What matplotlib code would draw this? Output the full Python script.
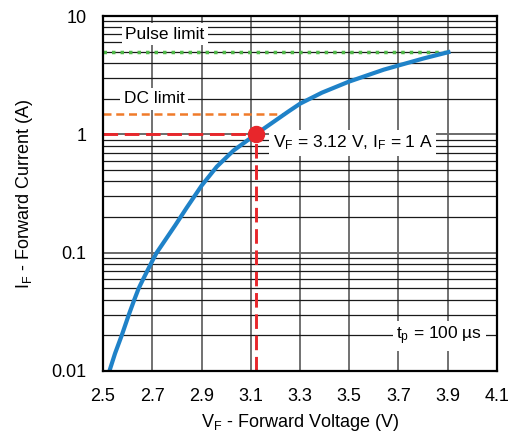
import numpy as np
import matplotlib.pyplot as plt

plt.rcParams['font.family'] = ['Liberation Sans', 'DejaVu Sans']
plt.rcParams['mathtext.fontset'] = 'custom'
plt.rcParams['mathtext.rm'] = 'Liberation Sans'
plt.rcParams['mathtext.it'] = 'Liberation Sans:italic'

# Forward I-V curve (V, A)
vf = [2.526, 2.549, 2.576, 2.605, 2.627, 2.645, 2.66, 2.70, 2.718, 2.793,
      2.840, 2.901, 2.962, 3.030, 3.098, 3.12, 3.159, 3.253, 3.301, 3.389,
      3.497, 3.64, 3.70, 3.802, 3.911]
i_f = [0.010, 0.0141, 0.020, 0.030, 0.040, 0.050, 0.058, 0.085, 0.10, 0.17,
       0.24, 0.37, 0.533, 0.73, 0.925, 1.0, 1.14, 1.56, 1.82, 2.25,
       2.78, 3.52, 3.82, 4.38, 5.0]

pulse_limit = 5.0
dc_limit = 1.5
op_v, op_i = 3.12, 1.0
xticks = [2.5, 2.7, 2.9, 3.1, 3.3, 3.5, 3.7, 3.9, 4.1]
yticks = [0.01, 0.1, 1, 10]
ytick_labels = ['0.01', '0.1', '1', '10']

fig = plt.figure(figsize=(5.09, 4.34), dpi=100)
ax = fig.add_axes([0.2024, 0.1452, 0.774, 0.8179])

ax.set_yscale('log')
ax.set_xlim(2.5, 4.1)
ax.set_ylim(0.01, 10)

# grid
for v in xticks[1:-1]:
    ax.axvline(v, color='#4a4a4a', lw=1.1, zorder=1)
for dec in [0.01, 0.1, 1]:
    for k in range(2, 10):
        ax.axhline(dec * k, color='#1a1a1a', lw=0.9, zorder=1)
    if dec > 0.01:
        ax.axhline(dec, color='#6a6a6a', lw=1.4, zorder=1)

# limits and operating point
ax.plot([2.5, vf[-1]], [pulse_limit, pulse_limit], color='#4fb848', lw=2.5,
        linestyle=(0, (1.0, 1.45)), zorder=3)
ax.plot([2.5, 3.24], [dc_limit, dc_limit], color='#f07b2a', lw=1.8,
        linestyle=(0, (3.2, 1.9)), zorder=3)
ax.plot([2.5, op_v], [op_i, op_i], color='#e8262b', lw=2.1,
        linestyle=(0, (5, 2.3)), zorder=3)
ax.plot([op_v, op_v], [0.01, op_i], color='#e8262b', lw=2.1,
        linestyle=(0, (5, 2.3)), zorder=3)

ax.plot(vf, i_f, color='#1f82c8', lw=3.0, solid_capstyle='butt',
        solid_joinstyle='round', zorder=4)
ax.plot([op_v], [op_i], 'o', color='#e8262b', ms=11.5, zorder=5)

box = dict(facecolor='white', edgecolor='none', pad=2.5)
ax.text(2.752, 7.0, 'Pulse limit', fontsize=12.5, ha='center', va='center',
        bbox=box, zorder=6)
ax.text(2.707, 2.0, 'DC limit', fontsize=12.5, ha='center', va='center',
        bbox=box, zorder=6)
ax.text(3.19, 0.85, r'V$_\mathregular{F}$ = 3.12 V, I$_\mathregular{F}$ = 1 A',
        fontsize=12.5, ha='left', va='center', bbox=box, zorder=6)
ax.text(3.866, 0.0198, r't$_\mathregular{p}$ = 100 µs', fontsize=12.5,
        ha='center', va='center', bbox=box, zorder=6)

ax.set_xticks(xticks)
ax.set_xticklabels([f'{v:.1f}' for v in xticks])
ax.set_yticks(yticks)
ax.set_yticklabels(ytick_labels)
ax.minorticks_off()
ax.tick_params(axis='both', length=0, labelsize=13)
ax.tick_params(axis='x', pad=12)
ax.tick_params(axis='y', pad=12)

for s in ax.spines.values():
    s.set_linewidth(1.6)
    s.set_color('black')
    s.set_zorder(7)

ax.set_xlabel(r'V$_\mathregular{F}$ - Forward Voltage (V)', fontsize=13,
              labelpad=5)
ax.set_ylabel(r'I$_\mathregular{F}$ - Forward Current (A)', fontsize=13,
              labelpad=12)

fig.savefig('out.png', dpi=100)
